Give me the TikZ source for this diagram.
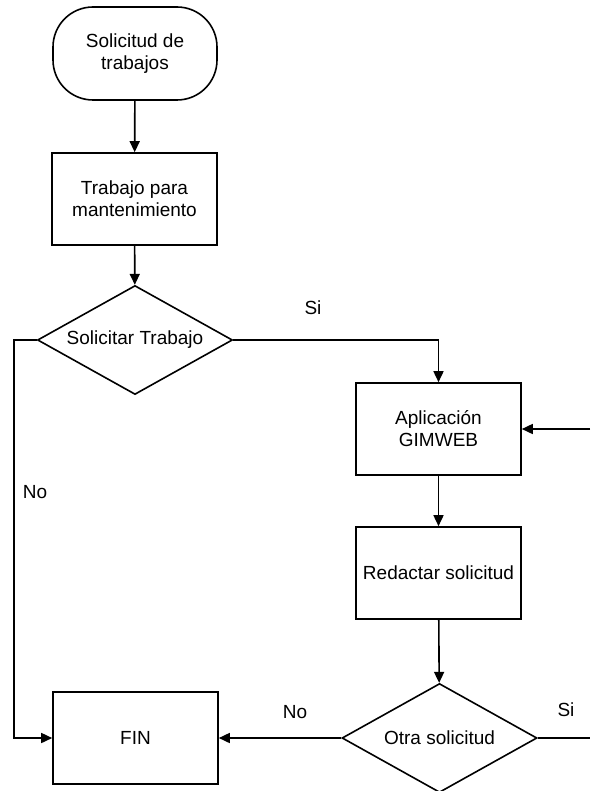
\documentclass[tikz,border=0pt]{standalone}
\usepackage{fontspec}
\setmainfont{Liberation Sans}
\usetikzlibrary{shapes.geometric,arrows.meta}

\begin{document}
\begin{tikzpicture}[x=1pt,y=-1pt,>={Triangle[length=11pt,width=10pt]},line width=1.6pt,
    font=\fontsize{19}{22}\selectfont,
    box/.style={draw,rectangle,minimum width=165pt,minimum height=92pt,inner sep=0pt,align=center},
    term/.style={box,minimum width=164pt,minimum height=93pt,rounded corners=40pt},
    decision/.style={draw,diamond,aspect=1.8,minimum width=195pt,minimum height=109pt,inner sep=0pt}]
    \useasboundingbox (0,0) rectangle (590,791);
    \node[term] (inicio) at (135,53.5) {Solicitud de\\trabajos};
    \node[box] (trabajo) at (134.5,199) {Trabajo para\\mantenimiento};
    \node[decision] (pedir) at (135,340) {Solicitar Trabajo};
    \node[box] (gimweb) at (438.5,429) {Aplicación\\GIMWEB};
    \node[box] (redactar) at (438.5,573) {Redactar solicitud};
    \node[decision] (otra) at (439.5,738) {Otra solicitud};
    \node[box] (fin) at (135.5,738) {FIN};
    \coordinate (izq) at (14,738);
    \coordinate (der1) at (590,738);
    \coordinate (der2) at (590,429);
    \draw[->] (inicio) -- (trabajo);
    \draw[->] (trabajo) -- (pedir);
    \draw[->] (pedir.east) -| (gimweb.north);
    \draw[->] (pedir.west) -| (izq) -- (fin.west);
    \draw[->] (gimweb) -- (redactar);
    \draw[->] (redactar) -- (otra);
    \draw[->] (otra.west) -- (fin.east);
    \draw (otra.east) -- (der1);
    \draw[->] (der2) -- (gimweb.east);
    \node (si1) at (313,308) {Si};
    \node (no1) at (35,492) {No};
    \node (no2) at (295,712) {No};
    \node (si2) at (566,710) {Si};
\end{tikzpicture}
\end{document}
